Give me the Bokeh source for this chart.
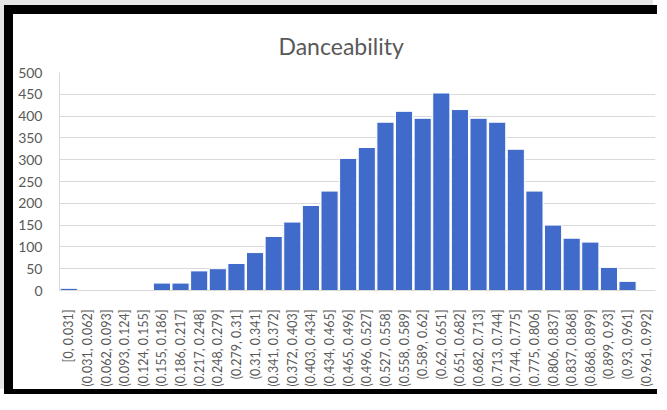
from bokeh.plotting import figure
from bokeh.models import ColumnDataSource, Range1d, FixedTicker
from bokeh.embed import file_html
from bokeh.resources import INLINE
import math

TITLE = "Danceability"
bins = ["[0, 0.031]", "(0.031, 0.062]", "(0.062, 0.093]", "(0.093, 0.124]",
        "(0.124, 0.155]", "(0.155, 0.186]", "(0.186, 0.217]", "(0.217, 0.248]",
        "(0.248, 0.279]", "(0.279, 0.31]", "(0.31, 0.341]", "(0.341, 0.372]",
        "(0.372, 0.403]", "(0.403, 0.434]", "(0.434, 0.465]", "(0.465, 0.496]",
        "(0.496, 0.527]", "(0.527, 0.558]", "(0.558, 0.589]", "(0.589, 0.62]",
        "(0.62, 0.651]", "(0.651, 0.682]", "(0.682, 0.713]", "(0.713, 0.744]",
        "(0.744, 0.775]", "(0.775, 0.806]", "(0.806, 0.837]", "(0.837, 0.868]",
        "(0.868, 0.899]", "(0.899, 0.93]", "(0.93, 0.961]", "(0.961, 0.992]"]
counts = [5, 0, 1, 0, 1, 17, 17, 45, 50, 62, 87, 124, 157, 195, 228, 303,
          328, 386, 411, 395, 453, 415, 395, 386, 324, 228, 150, 120, 111, 53, 21, 1]
y_ticks = [0, 50, 100, 150, 200, 250, 300, 350, 400, 450, 500]

FONT = "Lato"
GREY = "#595959"

src = ColumnDataSource(dict(bin=bins, count=counts))

p = figure(x_range=bins, y_range=Range1d(0, 500), width=653, height=389,
           output_backend="svg", toolbar_location=None, title=TITLE,
           min_border_left=46, min_border_right=11, min_border_top=58,
           min_border_bottom=113)
p.styles = {"margin-left": "4px", "margin-top": "5px",
            "border-left": "9px solid black", "border-top": "9px solid black",
            "border-bottom": "5px solid black",
            "box-shadow": "-4px -5px 0 0 #e6e6e6"}

p.vbar(x="bin", top="count", width=0.92, source=src, fill_color="#416BCB",
       line_color="white", line_width=1)

p.title.text_font = FONT
p.title.text_font_size = "23px"
p.title.text_font_style = "normal"
p.title.text_color = GREY
p.title.align = "left"
p.title.offset = 219
p.title.standoff = 26

p.outline_line_color = None
p.background_fill_color = "white"
p.border_fill_color = "white"

p.xgrid.grid_line_color = None
p.ygrid.grid_line_color = "#D9D9D9"
p.ygrid.grid_line_width = 1

p.yaxis.ticker = FixedTicker(ticks=y_ticks)
p.yaxis.axis_line_color = "#D9D9D9"
p.yaxis.major_tick_line_color = None
p.yaxis.minor_tick_line_color = None
p.yaxis.major_label_text_font = FONT
p.yaxis.major_label_text_font_size = "14px"
p.yaxis.major_label_text_color = GREY
p.yaxis.major_label_standoff = 11

p.xaxis.axis_line_color = "#D9D9D9"
p.xaxis.major_tick_line_color = None
p.xaxis.major_label_orientation = math.pi / 2
p.xaxis.major_label_text_font = FONT
p.xaxis.major_label_text_font_size = "12.5px"
p.xaxis.major_label_text_color = GREY
p.xaxis.major_label_standoff = 13

open("out.html", "w").write(file_html(p, INLINE))
